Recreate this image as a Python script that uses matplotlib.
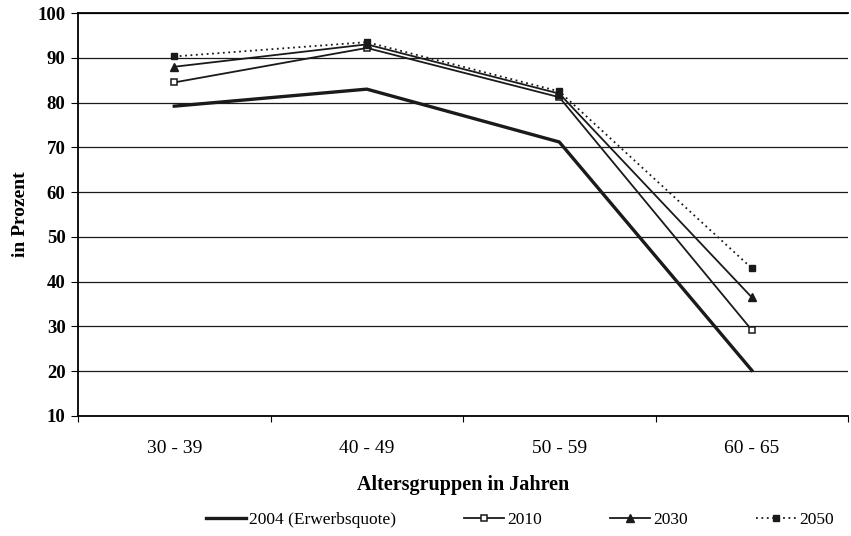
import matplotlib.pyplot as plt
import numpy as np

plt.rcParams["font.family"] = ["Liberation Serif", "DejaVu Serif"]

categories = ["30 - 39", "40 - 49", "50 - 59", "60 - 65"]
quote_2004 = [79.2, 83.0, 71.2, 20.2]
quote_2010 = [84.5, 92.2, 81.2, 29.2]
quote_2030 = [88.0, 93.0, 82.0, 36.5]
quote_2050 = [90.3, 93.5, 82.5, 43.0]

fig = plt.figure(figsize=(8.51, 5.36), dpi=100)
ax = fig.add_axes([0.0917, 0.2239, 0.9048, 0.7518])

x = np.arange(len(categories))
ax.plot(x, quote_2004, color="#1a1a1a", linewidth=2.4, label="2004 (Erwerbsquote)")
ax.plot(x, quote_2010, color="#1a1a1a", linewidth=1.3, marker="s", markersize=5,
        markerfacecolor="white", markeredgecolor="#1a1a1a", markeredgewidth=1.1, label="2010")
ax.plot(x, quote_2030, color="#1a1a1a", linewidth=1.3, marker="^", markersize=6,
        markerfacecolor="#1a1a1a", label="2030")
ax.plot(x, quote_2050, color="#1a1a1a", linewidth=1.3, linestyle=(0, (1, 2)), marker="s",
        markersize=5, markerfacecolor="#1a1a1a", label="2050")

ax.set_xlim(-0.5, 3.5)
ax.set_ylim(10, 100)
ax.set_yticks(np.arange(10, 101, 10))
ax.set_xticks(x)
ax.set_xticklabels(categories)
ax.set_xticks(np.arange(-0.5, 3.6, 1.0), minor=True)
ax.tick_params(axis="x", which="major", length=0, pad=17, labelsize=14)
ax.tick_params(axis="x", which="minor", length=4, direction="out", width=0.8)
ax.tick_params(axis="y", length=5, width=0.8, labelsize=13.5, pad=4)
for lbl in ax.get_yticklabels():
    lbl.set_fontweight("bold")

ax.grid(axis="y", color="#1a1a1a", linewidth=0.9)
ax.set_axisbelow(True)
ax.spines["right"].set_visible(False)
ax.spines["top"].set_linewidth(1.3)
ax.spines["left"].set_linewidth(1.3)
ax.spines["bottom"].set_linewidth(1.3)

ax.set_xlabel("Altersgruppen in Jahren", fontsize=14.5, fontweight="bold", labelpad=13)
ax.set_ylabel("in Prozent", fontsize=14, fontweight="bold", labelpad=6)

fig.legend(loc="center", bbox_to_anchor=(0.611, 0.03), ncol=4, frameon=False,
           fontsize=12.5, handlelength=2.3, columnspacing=3.9, handletextpad=0.2)

fig.savefig("out.png", dpi=100)
